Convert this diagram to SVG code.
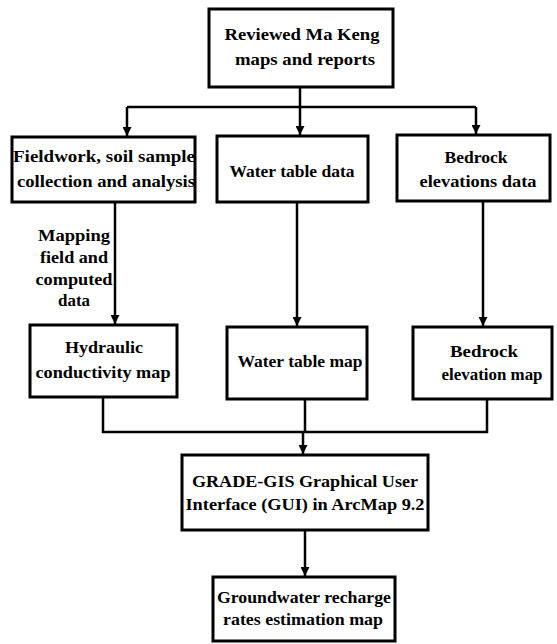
<svg xmlns="http://www.w3.org/2000/svg" width="557" height="644" viewBox="0 0 557 644">
<style>
.box{fill:#fff;stroke:#000;stroke-width:3}
.t{font-weight:700;font-size:16px;fill:#000;text-anchor:middle}
.c{fill:none;stroke:#000;stroke-width:2.5}
</style>
<defs>
<marker id="ah" viewBox="0 0 10 10" refX="10" refY="5" markerWidth="3.6" markerHeight="3.6" orient="auto" markerUnits="strokeWidth">
<path d="M0,0 L10,5 L0,10 z" fill="#000"/>
</marker>
</defs>
<rect width="557" height="644" fill="#fff"/>
<g font-family="Liberation Serif, DejaVu Serif, serif">
<g id="connectors">
<path class="c" d="M300,87 V107"/>
<path class="c" d="M127,107 H476"/>
<path class="c" d="M127,107 V136" marker-end="url(#ah)"/>
<path class="c" d="M300,107 V135" marker-end="url(#ah)"/>
<path class="c" d="M476,107 V134" marker-end="url(#ah)"/>
<path class="c" d="M115,202 V324" marker-end="url(#ah)"/>
<path class="c" d="M297,202 V326" marker-end="url(#ah)"/>
<path class="c" d="M483,201 V326" marker-end="url(#ah)"/>
<path class="c" d="M103,397 V432 H487 V399"/>
<path class="c" d="M305,399 V432"/>
<path class="c" d="M303,432 V454" marker-end="url(#ah)"/>
<path class="c" d="M305,530 V576" marker-end="url(#ah)"/>
<text class="t" x="74" y="241" textLength="72" lengthAdjust="spacingAndGlyphs">Mapping</text>
<text class="t" x="74" y="263" textLength="68" lengthAdjust="spacingAndGlyphs">field and</text>
<text class="t" x="74" y="285" textLength="77" lengthAdjust="spacingAndGlyphs">computed</text>
<text class="t" x="74" y="306" textLength="32" lengthAdjust="spacingAndGlyphs">data</text>
</g>
<g id="n1">
<rect class="box" x="209" y="9" width="184" height="78"/>
<text class="t" x="302" y="40" textLength="155" lengthAdjust="spacingAndGlyphs">Reviewed Ma Keng</text>
<text class="t" x="305" y="65" textLength="140" lengthAdjust="spacingAndGlyphs">maps and reports</text>
</g>
<g id="n2">
<rect class="box" x="12" y="137" width="183" height="65"/>
<text class="t" x="104" y="162" textLength="182" lengthAdjust="spacingAndGlyphs">Fieldwork, soil sample</text>
<text class="t" x="106" y="187" textLength="178" lengthAdjust="spacingAndGlyphs">collection and analysis</text>
</g>
<g id="n3">
<rect class="box" x="217" y="136" width="151" height="66"/>
<text class="t" x="292" y="177" textLength="125" lengthAdjust="spacingAndGlyphs">Water table data</text>
</g>
<g id="n4">
<rect class="box" x="397" y="135" width="153" height="66"/>
<text class="t" x="476" y="163" textLength="63" lengthAdjust="spacingAndGlyphs">Bedrock</text>
<text class="t" x="478" y="187" textLength="117" lengthAdjust="spacingAndGlyphs">elevations data</text>
</g>
<g id="n5">
<rect class="box" x="30" y="325" width="147" height="72"/>
<text class="t" x="104" y="353" textLength="78" lengthAdjust="spacingAndGlyphs">Hydraulic</text>
<text class="t" x="103" y="378" textLength="135" lengthAdjust="spacingAndGlyphs">conductivity map</text>
</g>
<g id="n6">
<rect class="box" x="227" y="327" width="140" height="72"/>
<text class="t" x="300" y="367" textLength="125" lengthAdjust="spacingAndGlyphs">Water table map</text>
</g>
<g id="n7">
<rect class="box" x="413" y="327" width="139" height="72"/>
<text class="t" x="484" y="357" textLength="68" lengthAdjust="spacingAndGlyphs">Bedrock</text>
<text class="t" x="492" y="380" textLength="101" lengthAdjust="spacingAndGlyphs">elevation map</text>
</g>
<g id="n8">
<rect class="box" x="182" y="455" width="246" height="75"/>
<text class="t" x="305" y="487" textLength="226" lengthAdjust="spacingAndGlyphs">GRADE-GIS Graphical User</text>
<text class="t" x="305" y="510" textLength="239" lengthAdjust="spacingAndGlyphs">Interface (GUI) in ArcMap 9.2</text>
</g>
<g id="n9">
<rect class="box" x="213" y="577" width="182" height="64"/>
<text class="t" x="304" y="603" textLength="174" lengthAdjust="spacingAndGlyphs">Groundwater recharge</text>
<text class="t" x="303" y="625" textLength="160" lengthAdjust="spacingAndGlyphs">rates estimation map</text>
</g>
</g>
</svg>
